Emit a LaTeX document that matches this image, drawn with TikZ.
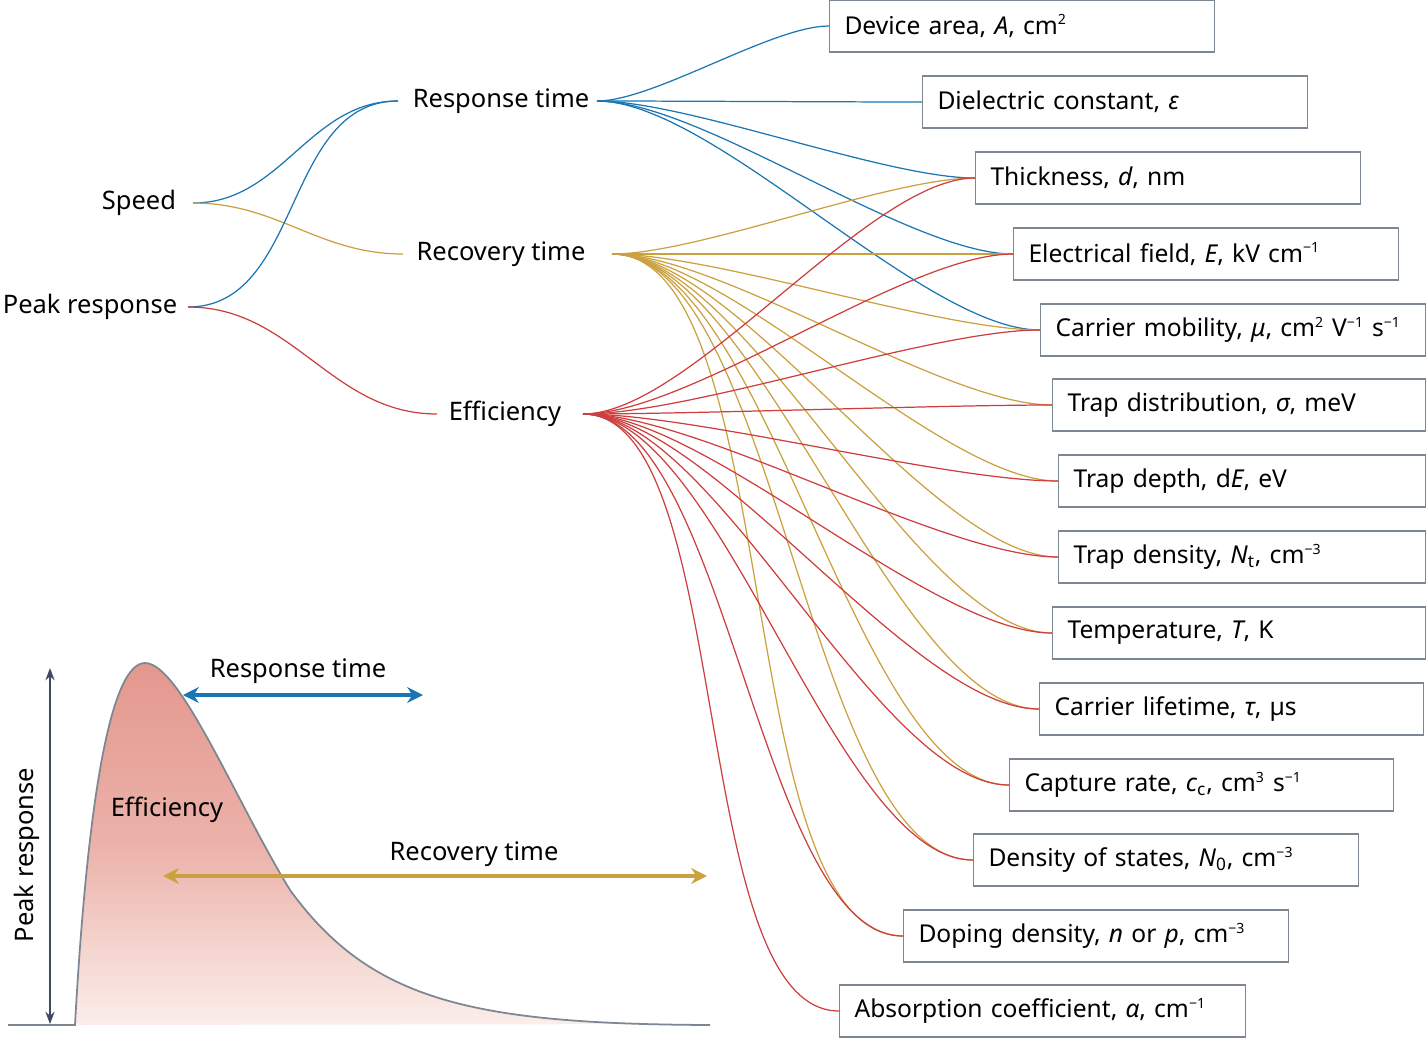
\documentclass[tikz,border=0pt]{standalone}
\usepackage{fontspec}
\setmainfont{Noto Sans}
\usetikzlibrary{arrows.meta}
\definecolor{rtblue}{RGB}{25,118,178}
\definecolor{rcgold}{RGB}{203,160,62}
\definecolor{efred}{RGB}{206,62,62}
\definecolor{boxgray}{RGB}{125,135,145}
\definecolor{axslate}{RGB}{60,75,95}
\definecolor{peakred}{RGB}{228,152,142}
\definecolor{peakpale}{RGB}{251,238,234}
\tikzset{
    lbl/.style = {font=\fontsize{14.5}{16}\selectfont, inner sep=1pt},
    param/.style = {draw=boxgray, line width=0.6pt, anchor=west, align=left,
        font=\fontsize{14}{16}\selectfont, inner xsep=0.3cm,
        minimum height=1.04cm},
    link/.style = {line width=0.7pt, out=0, in=180, looseness=0.6},
    blue link/.style = {link, rtblue},
    gold link/.style = {link, rcgold},
    red link/.style = {link, efred},
}
\newcommand{\param}[5]{%
    \pgfmathsetmacro{\pw}{(#4-#2-31)*0.02}
    \node[param, text width=\pw cm] (#1) at (#2,#3) {#5};}
\newcommand{\sups}[1]{\textsuperscript{\footnotesize #1}}
\begin{document}
\begin{tikzpicture}[x=0.02cm, y=-0.02cm]
    \useasboundingbox (0,0) rectangle (1427,1038);
    % left labels
    \node[lbl] (speed) at (139,203) {Speed};
    \node[lbl] (peak) at (90,307) {Peak response};
    \node[lbl] (resp) at (501,101) {Response time};
    \node[lbl] (recov) at (501,254) {Recovery time};
    \node[lbl] (eff) at (505,414) {Efficiency};
    \coordinate (speedR) at (193,203);
    \coordinate (peakR) at (188,307);
    \coordinate (respL) at (398,101);
    \coordinate (respR) at (597,101);
    \coordinate (recovL) at (403,254);
    \coordinate (recovR) at (612,254);
    \coordinate (effL) at (437,414);
    \coordinate (effR) at (583,414);
    % parameter boxes
    \param{area}{829}{26}{1215}{Device area, \textit{A}, cm\sups{2}}
    \param{diel}{922}{102}{1308}{Dielectric constant, \textit{ε}}
    \param{thick}{975}{178}{1361}{Thickness, \textit{d}, nm}
    \param{field}{1013}{254}{1399}{Electrical field, \textit{E}, kV cm\sups{−1}}
    \param{mob}{1040}{330}{1426}{Carrier mobility, \textit{μ}, cm\sups{2} V\sups{−1} s\sups{−1}}
    \param{tdist}{1052}{405}{1426}{Trap distribution, \textit{σ}, meV}
    \param{tdepth}{1058}{481}{1426}{Trap depth, d\textit{E}, eV}
    \param{tdens}{1058}{557}{1426}{Trap density, \textit{N}\textsubscript{t}, cm\sups{−3}}
    \param{temp}{1052}{633}{1426}{Temperature, \textit{T}, K}
    \param{life}{1039}{709}{1424}{Carrier lifetime, \textit{τ}, µs}
    \param{capt}{1009}{785}{1394}{Capture rate, \textit{c}\textsubscript{c}, cm\sups{3} s\sups{−1}}
    \param{dos}{973}{860}{1359}{Density of states, \textit{N}\textsubscript{0}, cm\sups{−3}}
    \param{dop}{903}{936}{1289}{Doping density, \textit{n} or \textit{p}, cm\sups{−3}}
    \param{abs}{839}{1011}{1246}{Absorption coefficient, \textit{α}, cm\sups{−1}}
    % first level
    \draw[blue link, looseness=1] (speedR) to (respL);
    \draw[gold link, looseness=1] (speedR) to (recovL);
    \draw[blue link, looseness=1] (peakR) to (respL);
    \draw[red link, looseness=1] (peakR) to (effL);
    % second level
    \foreach \p in {area,diel,thick,field,mob}
        \draw[blue link] (respR) to (\p.west);
    \foreach \p in {thick,field,mob,tdist,tdepth,tdens,temp,life,capt,dos,dop}
        \draw[gold link] (recovR) to (\p.west);
    \foreach \p in {thick,field,mob,tdist,tdepth,tdens,temp,life,capt,dos,dop,abs}
        \draw[red link] (effR) to (\p.west);
    % response curve
    \coordinate (base0) at (8,1025);
    \coordinate (base1) at (710,1025);
    \shade[top color=peakred, bottom color=peakpale, middle color=peakred!70!peakpale]
        (75,1025) .. controls (88,790) and (112,663) .. (145,663)
        .. controls (180,663) and (235,800) .. (290,890)
        .. controls (370,1000) and (470,1024) .. (710,1024) -- cycle;
    \draw[boxgray, line width=1pt] (base0) -- (75,1025)
        .. controls (88,790) and (112,663) .. (145,663)
        .. controls (180,663) and (235,800) .. (290,890)
        .. controls (370,1000) and (470,1024) .. (base1);
    \coordinate (ptop) at (50,668);
    \coordinate (pbot) at (50,1024);
    \draw[axslate, line width=0.8pt, {Stealth[length=7pt]}-{Stealth[length=7pt]}] (pbot) -- (ptop);
    \node[lbl, rotate=90] (peaklbl) at (27,855) {Peak response};
    \node[lbl] (efflbl) at (167,810) {Efficiency};
    \coordinate (rt0) at (183,695);
    \coordinate (rt1) at (423,695);
    \draw[rtblue, line width=2pt, {Stealth[length=9pt,width=9pt]}-{Stealth[length=9pt,width=9pt]}] (rt0) -- (rt1);
    \node[lbl] (rtlbl) at (298,671) {Response time};
    \coordinate (rc0) at (163,876);
    \coordinate (rc1) at (707,876);
    \draw[rcgold, line width=2pt, {Stealth[length=9pt,width=9pt]}-{Stealth[length=9pt,width=9pt]}] (rc0) -- (rc1);
    \node[lbl] (rclbl) at (474,854) {Recovery time};
\end{tikzpicture}
\end{document}
